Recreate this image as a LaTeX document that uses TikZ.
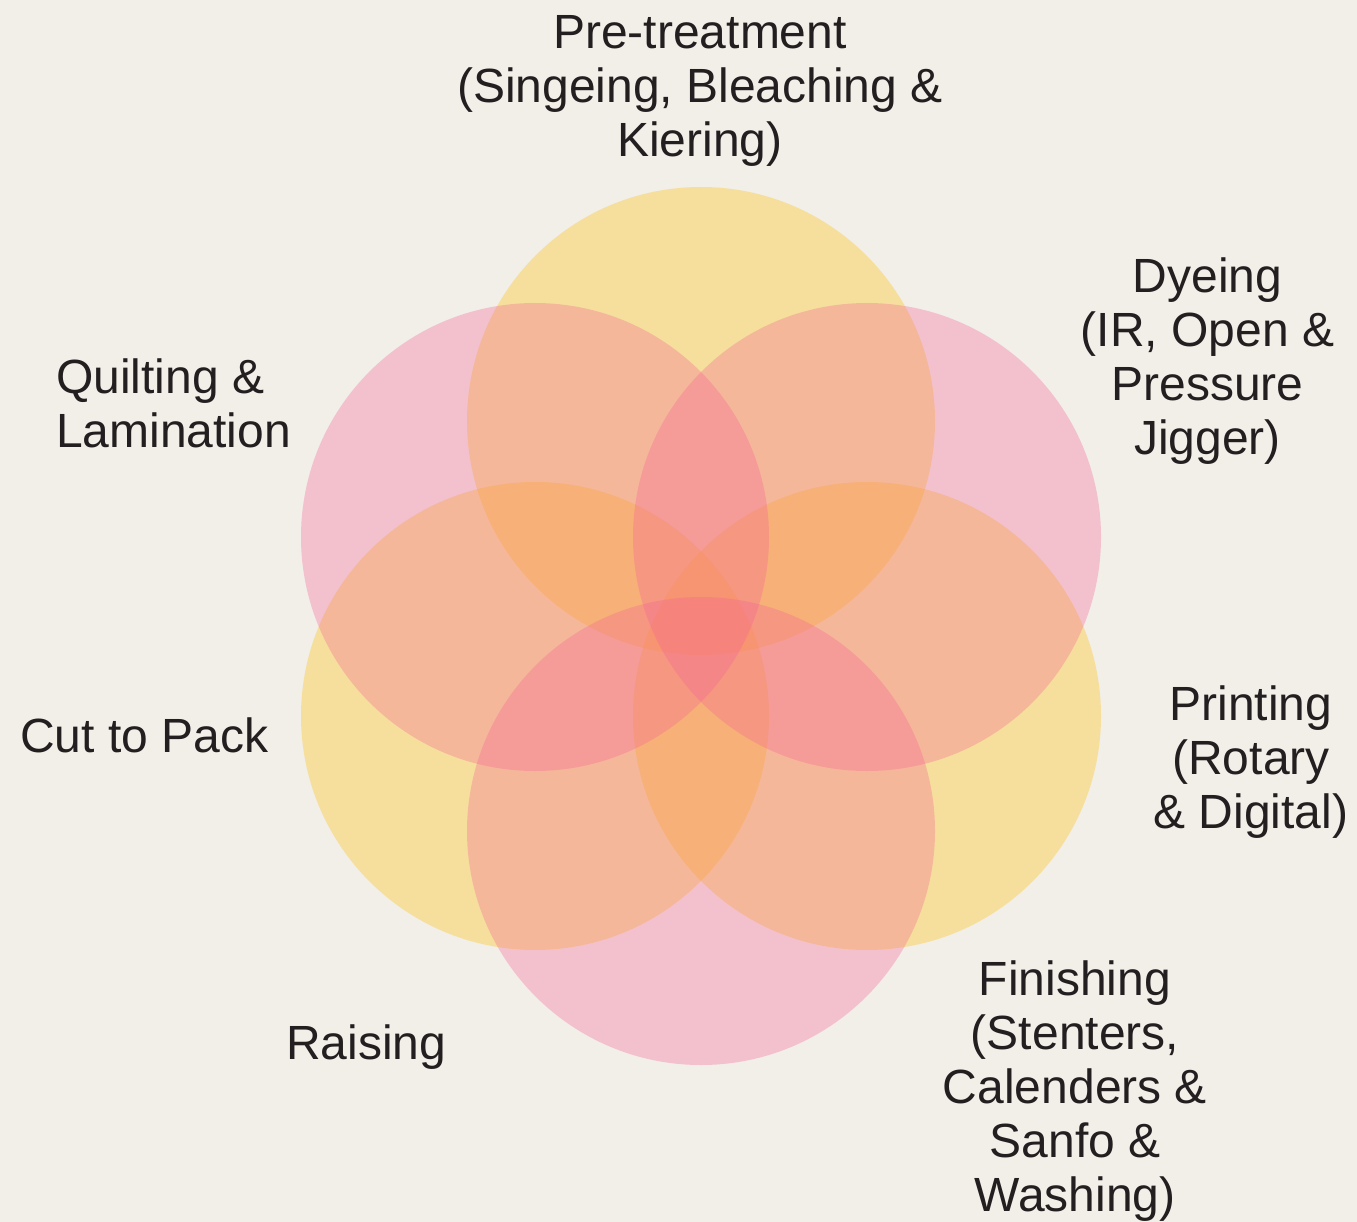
\documentclass[tikz,border=0pt]{standalone}
\usepackage{fontspec}
\setmainfont{Liberation Sans}
\definecolor{bgc}{RGB}{242,238,232}
\definecolor{ylw}{RGB}{255,192,0}
\definecolor{pnk}{RGB}{245,100,150}
\definecolor{txt}{RGB}{35,31,32}
\begin{document}
\begin{tikzpicture}[x=1pt,y=-1pt,
  yellowdisc/.style={fill=ylw,fill opacity=0.32},
  pinkdisc/.style={fill=pnk,fill opacity=0.32},
  lbl/.style={text=txt,inner sep=0pt,font=\fontsize{48}{54}\selectfont},
  lbltight/.style={text=txt,inner sep=0pt,font=\fontsize{48}{54}\selectfont}]
\fill[bgc] (0,0) rectangle (1357,1222);
\useasboundingbox (0,0) rectangle (1357,1222);
\def\R{234}
% yellow discs
\fill[yellowdisc] (701,421) circle (\R);
\fill[yellowdisc] (867,716) circle (\R);
\fill[yellowdisc] (535,716) circle (\R);
% pink discs
\fill[pinkdisc] (867,537) circle (\R);
\fill[pinkdisc] (701,831) circle (\R);
\fill[pinkdisc] (535,537) circle (\R);
% labels
\node[lbl,align=center,anchor=north] (pre) at (700,{48-37.8})
  {\strut Pre-treatment\\(Singeing, Bleaching \&\\Kiering)};
\node[lbl,align=center,anchor=north] (dye) at (1207.5,{292-37.8})
  {\strut Dyeing\\(IR, Open \&\\Pressure\\Jigger)};
\node[lbl,align=left,anchor=north west] (quilt) at (56,{393-37.8})
  {\strut Quilting \&\\Lamination};
\node[lbl,anchor=base west] (cut) at (20,752) {Cut to Pack};
\node[lbl,anchor=base west] (raise) at (286,1059) {Raising};
\node[lbltight,align=center,anchor=north] (print) at (1251,{720-37.8})
  {\strut Printing\\(Rotary\\\& Digital)};
\node[lbltight,align=center,anchor=north] (fin) at (1075,{995-37.8})
  {\strut Finishing\\(Stenters,\\Calenders \&\\Sanfo \&\\Washing)};
\end{tikzpicture}
\end{document}
